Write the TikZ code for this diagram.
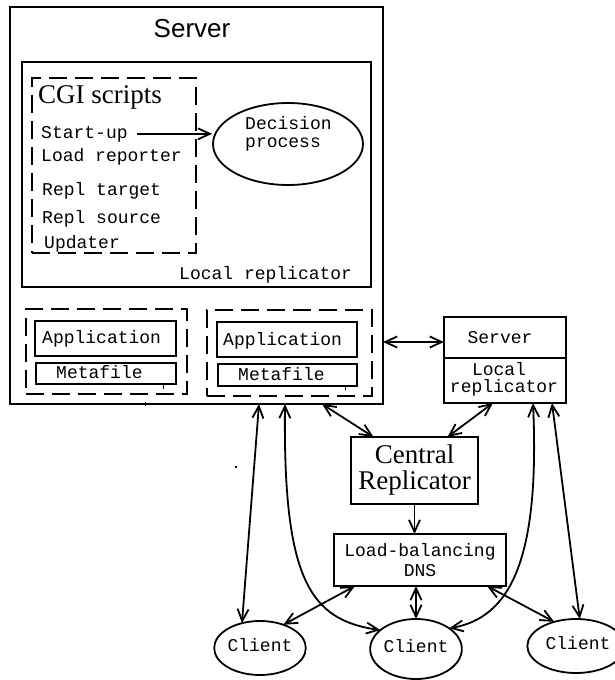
\documentclass[tikz,border=0pt]{standalone}
\usepackage{fontspec}
\setmainfont{Liberation Serif}
\newfontfamily\sansf{Liberation Sans}
\newfontfamily\monof{Liberation Mono}
\usetikzlibrary{arrows.meta,shapes.geometric}

\begin{document}
\begin{tikzpicture}[x=1pt,y=-1pt,
  >={Straight Barb[length=12pt,width=11pt]},
  box/.style={draw, line width=1.8pt, inner sep=0pt, outer sep=0pt},
  dbox/.style={box, dash pattern=on 18pt off 8pt},
  oval/.style={draw, ellipse, line width=1.8pt, inner sep=0pt, outer sep=0pt,
    font=\monof\fontsize{18}{20}\selectfont, text height=6pt, text depth=0pt},
  mono/.style={font=\monof\fontsize{18}{20}\selectfont, inner sep=0pt, anchor=base west},
  monoc/.style={mono, anchor=base},
  arr/.style={line width=1.8pt, ->},
  darr/.style={line width=1.8pt, <->},
  speck/.style={fill=black}
]
\useasboundingbox (0,0) rectangle (614,680);

% ---- main server ----
\node[box, minimum width=373pt, minimum height=397pt] (srv) at (196.5,205.5) {};
\node[font=\sansf\fontsize{26}{28}\selectfont, inner sep=0pt, anchor=base] (srvt) at (192,37) {Server};

% local replicator with CGI scripts
\node[box, minimum width=349pt, minimum height=225pt] (lrep) at (196.5,174.5) {};
\node[mono] (lrept) at (179,279) {Local replicator};
\node[dbox, minimum width=164pt, minimum height=175pt] (cgi) at (114,165.5) {};
\node[font=\fontsize{27}{29}\selectfont, inner sep=0pt, anchor=base west] (cgit) at (38,103) {CGI scripts};
\node[mono] (su) at (41,138) {Start-up};
\node[mono] (lr) at (41,161) {Load reporter};
\node[mono] (rt) at (42,195) {Repl target};
\node[mono] (rs) at (42,223) {Repl source};
\node[mono] (up) at (44,248) {Updater};

\node[draw, ellipse, line width=1.8pt, minimum width=150pt, minimum height=82pt, inner sep=0pt] (dec) at (288,144) {};
\node[mono] (dec1) at (245,129) {Decision};
\node[mono] (dec2) at (245,147) {process};
\draw[arr] ([xshift=9pt]su.east) -- (su.east -| dec.west);

% applications with their metafiles
\node[dbox, minimum width=161pt, minimum height=85pt] (dl) at (106.5,351.5) {};
\node[box, minimum width=141pt, minimum height=35pt] (app1) at (105.5,338.5) {};
\node[box, minimum width=140pt, minimum height=21pt] (meta1) at (106,373.5) {};
\node[mono] (app1t) at (42,343) {Application};
\node[mono] (meta1t) at (56,378) {Metafile};

\node[dbox, minimum width=165pt, minimum height=86pt] (dr) at (289.5,353) {};
\node[box, minimum width=140pt, minimum height=35pt] (app2) at (287,339.5) {};
\node[box, minimum width=139pt, minimum height=22pt] (meta2) at (287.5,375) {};
\node[mono] (app2t) at (223,345) {Application};
\node[mono] (meta2t) at (238,380) {Metafile};

% small specks
\fill[speck] (162.5,385) rectangle (164,388.5);
\fill[speck] (144.5,402) rectangle (146,405.5);
\fill[speck] (344.5,387) rectangle (346,390);
\fill[speck] (235,466) rectangle (237,468);

% ---- second server ----
\node[box, minimum width=122pt, minimum height=86pt] (sb) at (505,360) {};
\draw[line width=1.8pt] ([yshift=2pt]sb.west) -- ([yshift=2pt]sb.east);
\node[monoc] (sbt) at (500,343) {Server};
\node[monoc] (sbl1) at (499,375) {Local};
\node[monoc] (sbl2) at (504,392) {replicator};

% ---- central replicator and DNS ----
\node[box, minimum width=127pt, minimum height=67pt, align=center,
  font=\fontsize{27}{26}\selectfont] (cr) at (414.5,470.5) {Central\\Replicator};
\node[box, minimum width=172pt, minimum height=52pt, align=center,
  font=\monof\fontsize{18}{20}\selectfont] (dns) at (420,560) {Load-balancing\\DNS};

% ---- clients ----
\node[oval, minimum width=76pt, minimum height=54pt] (lc) at (260,648) {Client};
\node[oval, minimum width=82pt, minimum height=60pt] (mc) at (416,649) {Client};
\node[oval, minimum width=74pt, minimum height=54pt] (rc) at (576,646) {\hspace*{4pt}Client};

% ---- connectors ----
\draw[darr] ([yshift=18pt]sb.west -| srv.east) -- ([yshift=18pt]sb.west);
\draw[darr] ([xshift=125.5pt]srv.south) -- ([xshift=-41pt]cr.north);
\draw[darr] ([xshift=-12pt]sb.south) -- ([xshift=33pt]cr.north);
\draw[arr] (cr.south) -- (cr.south |- dns.north);

\draw[darr] ([xshift=62.5pt]srv.south) -- (lc.126);
\draw[darr] ([xshift=88.5pt]srv.south) .. controls (283,580) and (310,620) .. (mc.152);
\draw[darr] ([xshift=28pt]sb.south) .. controls (540,560) and (510,618) .. (mc.32);
\draw[darr] ([xshift=47pt]sb.south) -- (rc.82);

\draw[darr] ([xshift=-65pt]dns.south) -- (lc.45);
\draw[darr] (mc.north |- dns.south) -- (mc.north);
\draw[darr] ([xshift=67pt]dns.south) -- (rc.132);
\end{tikzpicture}
\end{document}
